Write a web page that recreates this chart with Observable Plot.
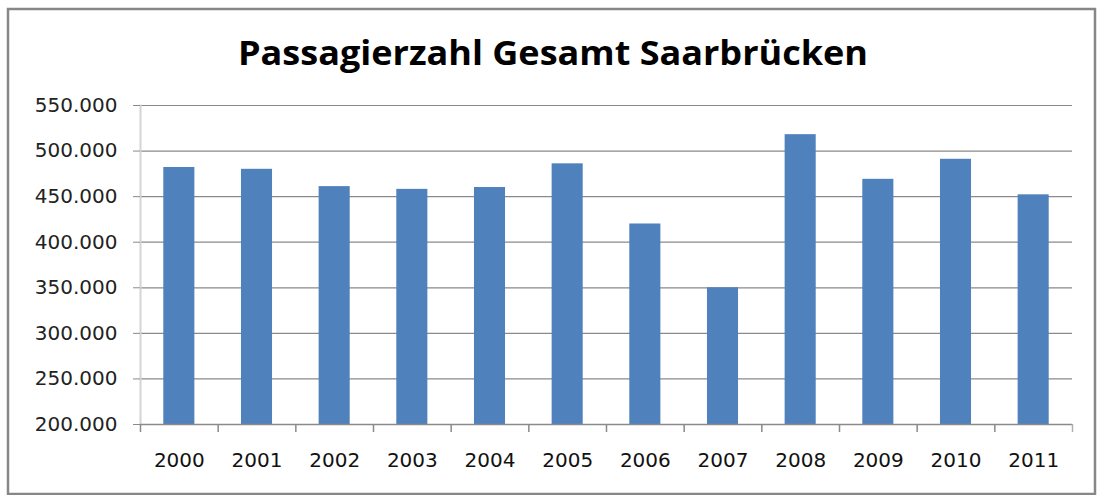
<!DOCTYPE html>
<html>
<head>
<meta charset="utf-8">
<script src="https://cdn.jsdelivr.net/npm/d3@7"></script>
<script src="https://cdn.jsdelivr.net/npm/@observablehq/plot@0.6"></script>
<style>
  html, body { margin: 0; padding: 0; background: #fff; }
  #wrap { position: relative; width: 1098px; height: 495px; overflow: hidden; }
  #wrap svg { position: absolute; left: 0; top: 0; }
</style>
</head>
<body>
<div id="wrap"></div>
<script>
const titleText = "Passagierzahl Gesamt Saarbrücken";
const years = ["2000","2001","2002","2003","2004","2005","2006","2007","2008","2009","2010","2011"];
const passengers = [482000, 480000, 461000, 458000, 460000, 486000, 420000, 350000, 518000, 469000, 491000, 452000];
const yTicks = [200000, 250000, 300000, 350000, 400000, 450000, 500000, 550000];

const data = years.map((year, i) => ({year, value: passengers[i]}));
const fmt = d3.formatLocale({thousands: ".", grouping: [3], decimal: ",", currency: ["", "€"]}).format(",");

const W = 1098, H = 495;
const mL = 140, mR = 26, mT = 105, mB = 71;
const step = (W - mL - mR) / years.length;

const chart = Plot.plot({
  width: W,
  height: H,
  marginLeft: mL,
  marginRight: mR,
  marginTop: mT,
  marginBottom: mB,
  style: {fontFamily: "'DejaVu Sans'", fontSize: "20px", color: "#222", background: "transparent"},
  x: {domain: years, paddingInner: 0.6, paddingOuter: 0.3, round: false, label: null},
  y: {domain: [200000, 550000], label: null},
  marks: [
    Plot.ruleY(yTicks.slice(1), {stroke: "#8a8a8a", strokeWidth: 1.2, strokeOpacity: 1}),
    Plot.frame({anchor: "left", stroke: "#d4d4d4", strokeWidth: 2}),
    Plot.barY(data, {x: "year", y1: 200000, y2: "value", fill: "#4F81BD"}),
    Plot.ruleY([200000], {stroke: "#8a8a8a", strokeWidth: 1.5}),
    Plot.ruleX(years, {x: d => d, y1: 200000, y2: 200000, insetBottom: -8, dx: -step / 2, stroke: "#8a8a8a", strokeWidth: 1.5}),
    Plot.ruleX(years.slice(-1), {x: d => d, y1: 200000, y2: 200000, insetBottom: -8, dx: step / 2, stroke: "#b0b0b0", strokeWidth: 1.5}),
    Plot.axisY({ticks: yTicks, tickFormat: fmt, tickSize: 7, tickPadding: 16, stroke: "#8a8a8a", fontSize: 20, fill: "#222"}),
    Plot.axisX({tickSize: 0, tickPadding: 28, fontSize: 20, fill: "#111"})
  ]
});

const wrap = document.getElementById("wrap");
wrap.appendChild(chart);

// Title and outer chart frame, drawn above the plot
const ns = "http://www.w3.org/2000/svg";
const over = document.createElementNS(ns, "svg");
over.setAttribute("width", W);
over.setAttribute("height", H);
over.style.pointerEvents = "none";
const rect = document.createElementNS(ns, "rect");
rect.setAttribute("x", 8);
rect.setAttribute("y", 9);
rect.setAttribute("width", 1087);
rect.setAttribute("height", 485);
rect.setAttribute("fill", "none");
rect.setAttribute("stroke", "#878787");
rect.setAttribute("stroke-width", 2.5);
over.appendChild(rect);
const t = document.createElementNS(ns, "text");
t.setAttribute("x", 553);
t.setAttribute("y", 65);
t.setAttribute("text-anchor", "middle");
t.setAttribute("font-family", "Open Sans");
t.setAttribute("font-weight", "700");
t.setAttribute("font-size", 34);
t.setAttribute("fill", "#000");
t.setAttribute("textLength", 630);
t.setAttribute("lengthAdjust", "spacingAndGlyphs");
t.textContent = titleText;
over.appendChild(t);
wrap.appendChild(over);
</script>
</body>
</html>
